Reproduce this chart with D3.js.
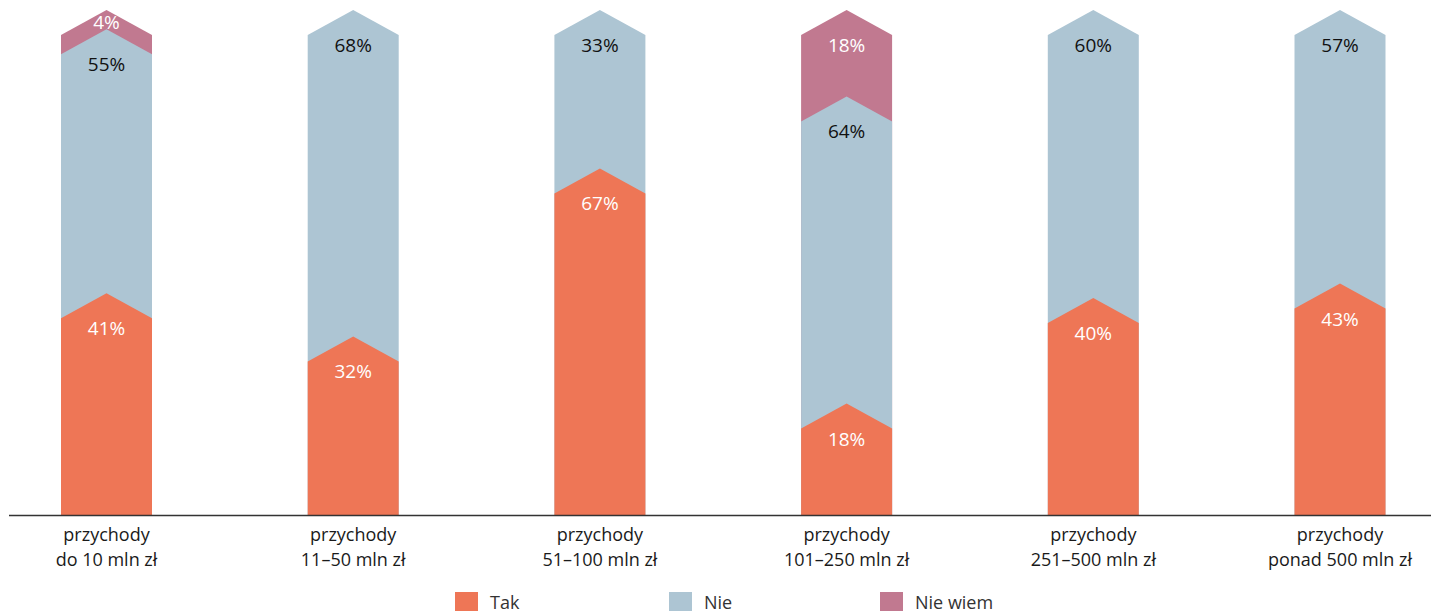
<!DOCTYPE html>
<html lang="pl">
<head>
    <meta charset="UTF-8">
    <title>Przychody</title>
    <script src="https://d3js.org/d3.v7.min.js"></script>
    <style>
        body {
            margin: 0;
            background: #fff;
            font-family: 'Open Sans', 'Noto Sans', sans-serif;
        }
        .cat-label {
            font-size: 18px;
            fill: #1a1a1a;
        }
        .val-label {
            font-size: 19px;
        }
        .legend-text {
            font-size: 18px;
            fill: #333;
        }
    </style>
</head>
<body>
    <svg id="chart" width="1431" height="611"></svg>
    <script>
        const categories = [
            ["przychody", "do 10 mln zł"],
            ["przychody", "11–50 mln zł"],
            ["przychody", "51–100 mln zł"],
            ["przychody", "101–250 mln zł"],
            ["przychody", "251–500 mln zł"],
            ["przychody", "ponad 500 mln zł"]
        ];
        const seriesNames = ["Tak", "Nie", "Nie wiem"];
        const tak = [41, 32, 67, 18, 40, 43];
        const nie = [55, 68, 33, 64, 60, 57];
        const nieWiem = [4, 0, 0, 18, 0, 0];
        const colors = ["#ee7656", "#adc5d3", "#c17990"];
        const labelColors = ["#fff", "#111", "#fff"];

        const svg = d3.select("#chart");
        const barW = 91;
        const peak = 25;

        const x = d3.scalePoint()
            .domain(d3.range(categories.length))
            .range([106.5, 1340]);
        const y = d3.scaleLinear().domain([0, 100]).range([515, 35]);

        const series = [tak, nie, nieWiem];

        // cumulative tops per category
        const stacks = categories.map((c, i) => {
            let acc = 0;
            return series.map((s, k) => {
                const v = s[i];
                const start = acc;
                acc += v;
                return { i, k, v, start, end: acc };
            });
        });

        // draw from top series down so the chevrons overlap properly
        for (let k = series.length - 1; k >= 0; k--) {
            stacks.forEach(st => {
                const d = st[k];
                if (d.v <= 0) return;
                const cx = x(d.i), x0 = cx - barW / 2, x1 = cx + barW / 2;
                const yt = y(d.end);
                const pts = [
                    [x0, y(0)], [x0, yt], [cx, yt - peak], [x1, yt], [x1, y(0)]
                ];
                svg.append("polygon")
                    .attr("points", pts.map(p => p.join(",")).join(" "))
                    .attr("fill", colors[k]);
            });
        }

        // value labels
        stacks.forEach(st => {
            st.forEach(d => {
                if (d.v <= 0) return;
                const yt = y(d.end);
                const ly = d.v < 10 ? yt - 13 : yt + 10;
                svg.append("text")
                    .attr("class", "val-label")
                    .attr("x", x(d.i))
                    .attr("y", ly)
                    .attr("text-anchor", "middle")
                    .attr("dominant-baseline", "central")
                    .attr("fill", labelColors[d.k])
                    .text(d.v + "%");
            });
        });

        // baseline
        svg.append("line")
            .attr("x1", 9).attr("x2", 1431)
            .attr("y1", y(0) + 0.5).attr("y2", y(0) + 0.5)
            .attr("stroke", "#333")
            .attr("stroke-width", 1.5);

        // category labels
        categories.forEach((c, i) => {
            const t = svg.append("text")
                .attr("class", "cat-label")
                .attr("text-anchor", "middle")
                .attr("x", x(i))
                .attr("y", 541);
            t.append("tspan").attr("x", x(i)).text(c[0]);
            t.append("tspan").attr("x", x(i)).attr("dy", 25).text(c[1]);
        });

        // legend
        const legendX = [455, 669, 880];
        seriesNames.forEach((name, k) => {
            svg.append("rect")
                .attr("x", legendX[k]).attr("y", 592)
                .attr("width", 23).attr("height", 23)
                .attr("fill", colors[k]);
            svg.append("text")
                .attr("class", "legend-text")
                .attr("x", legendX[k] + 35)
                .attr("y", 609)
                .text(name);
        });
    </script>
</body>
</html>
